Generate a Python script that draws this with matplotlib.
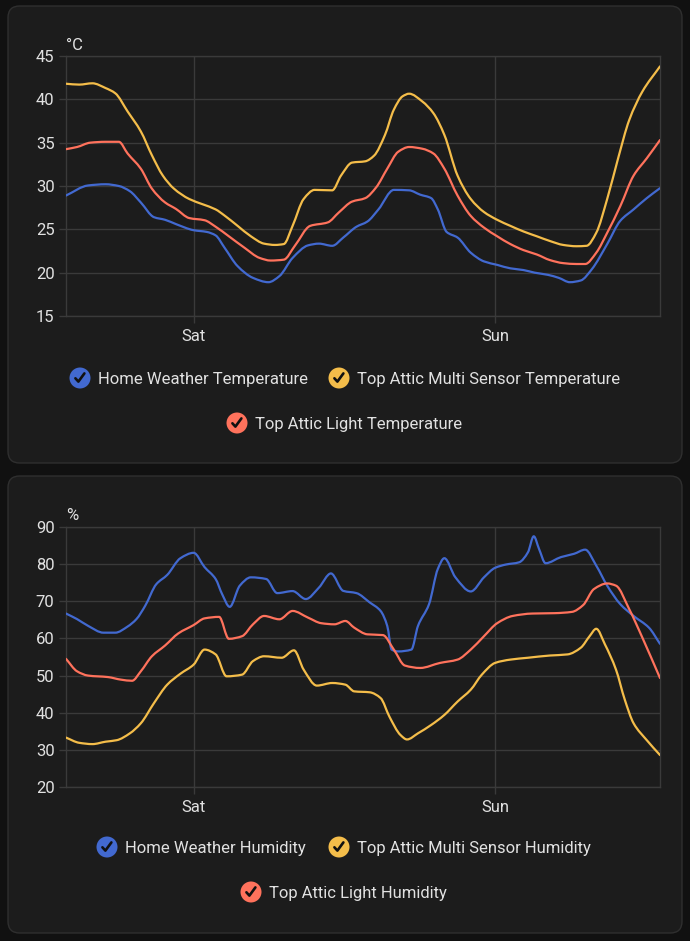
import matplotlib
matplotlib.use("Agg")
import matplotlib.pyplot as plt
from matplotlib.patches import FancyBboxPatch, Circle, PathPatch
from matplotlib.path import Path
from matplotlib.lines import Line2D

# ---------------- data (hours relative to Sat 00:00) ----------------
temp_home_h = [-10.15,-8.40,-7.00,-5.95,-5.07,-4.20,-3.15,-2.27,-1.40,0,1.05,1.75,2.45,3.50,4.72,5.95,6.82,7.87,9.10,9.97,11.02,11.90,12.95,13.82,14.70,15.92,17.14,18.02,18.89,19.42,20.12,20.99,22.04,23.09,24.14,25.19,26.24,27.12,28.17,29.04,29.92,30.79,31.67,32.89,33.94,34.99,36.04,37.09]
temp_home = [28.9,30.06,30.2,30.0,29.4,28.1,26.4,26.1,25.6,24.9,24.7,24.3,22.9,20.75,19.4,18.9,19.6,21.7,23.15,23.35,23.1,24.05,25.3,25.9,27.3,29.55,29.5,29.0,28.6,27.3,24.7,24.05,22.3,21.3,20.9,20.5,20.3,20.0,19.75,19.4,18.9,19.1,20.4,23.3,26.0,27.3,28.6,29.75]

temp_multi_h = [-10.15,-9.10,-8.05,-7.00,-6.23,-5.25,-4.20,-3.32,-2.45,-1.57,-0.35,0.70,1.75,2.45,3.50,4.55,5.60,6.47,7.17,7.87,8.75,9.62,11.02,11.72,12.60,13.65,14.35,15.22,15.92,16.62,17.14,18.19,19.07,19.94,20.99,22.04,23.09,24.14,25.19,26.24,27.29,28.34,29.39,30.44,31.25,32.02,32.89,33.76,34.64,35.69,37.09]
temp_multi = [41.8,41.7,41.85,41.3,40.7,38.6,36.3,33.55,31.2,29.7,28.5,27.9,27.3,26.6,25.4,24.2,23.35,23.2,23.3,25.4,28.5,29.55,29.5,31.2,32.7,32.85,33.5,35.9,38.8,40.35,40.65,39.75,38.4,35.9,31.2,28.5,27.0,26.1,25.4,24.75,24.2,23.65,23.2,23.05,23.1,24.6,28.5,33.2,37.6,40.9,43.8]

temp_light_h = [-10.15,-9.27,-8.22,-7.00,-5.95,-5.25,-4.20,-3.32,-2.27,-1.40,-0.35,0.87,1.75,2.80,4.02,5.25,6.12,7.17,8.05,9.27,10.67,11.55,12.60,13.65,14.52,15.40,16.27,17.14,18.19,19.07,19.94,20.99,22.04,23.09,24.14,25.19,26.24,27.29,28.34,29.39,30.44,31.14,32.02,32.89,33.94,34.99,36.04,37.09]
temp_light = [34.25,34.5,35.0,35.1,35.1,33.75,32.0,29.7,28.1,27.35,26.3,26.05,25.3,24.2,22.9,21.7,21.4,21.5,23.1,25.4,25.8,26.95,28.2,28.6,29.85,32.0,33.95,34.5,34.3,33.75,32.0,28.9,26.55,25.2,24.2,23.3,22.6,22.1,21.45,21.1,21.0,21.0,22.3,24.6,27.7,31.2,33.2,35.3]

hum_home_h = [-10.15,-9.27,-8.40,-7.17,-6.23,-5.25,-4.55,-3.85,-2.97,-2.10,-1.05,0,0.87,1.75,2.27,2.87,3.67,4.55,5.77,6.65,7.87,8.92,9.97,10.92,11.90,12.95,14.00,14.87,15.40,15.75,16.27,17.32,17.84,18.72,19.42,19.94,20.82,22.04,23.09,23.97,24.84,25.89,26.59,27.05,27.47,27.99,29.22,30.27,31.14,32.02,32.89,33.94,34.99,36.21,37.09]
hum_home = [66.7,65.2,63.4,61.55,61.55,63.2,65.2,68.8,74.6,77.1,81.6,83.05,79.2,76.0,71.9,68.5,74.2,76.45,76.0,72.2,72.75,70.6,73.7,77.5,72.8,72.2,69.7,67.4,63.35,57.0,56.5,57.0,63.35,69.2,78.7,81.6,76.45,72.65,76.45,79.0,79.9,80.5,83.2,87.5,84.1,80.25,81.9,82.8,83.9,79.6,74.2,69.2,66.05,62.9,58.55]

hum_multi_h = [-10.15,-9.10,-8.05,-7.00,-6.12,-5.07,-4.20,-3.15,-2.10,-1.05,0,0.87,1.75,2.62,3.85,4.72,5.60,7.00,7.98,8.75,9.80,11.02,12.07,12.77,14.00,14.87,15.57,16.45,16.97,17.84,18.89,19.94,20.99,22.04,22.92,23.97,25.19,26.59,28.34,29.74,30.79,31.49,32.02,32.71,33.59,34.29,34.99,36.04,37.09]
hum_multi = [33.3,31.9,31.55,32.2,32.6,34.45,37.15,42.6,47.55,50.5,52.95,57.0,55.7,49.8,50.25,53.9,55.2,54.8,56.8,51.6,47.3,48.0,47.55,45.75,45.5,43.95,38.95,34.0,32.8,34.45,36.7,39.4,43.0,46.2,50.25,53.4,54.3,54.8,55.4,55.7,57.5,60.6,62.6,58.4,51.6,43.5,37.15,32.6,28.6]

hum_light_h = [-10.15,-9.27,-8.40,-6.82,-5.77,-4.90,-4.20,-3.32,-2.27,-1.22,0,0.87,2.03,2.80,3.85,4.72,5.60,6.82,7.87,9.10,10.15,11.20,12.07,12.77,13.82,15.05,15.92,16.80,18.02,19.59,20.99,22.04,23.09,24.14,25.37,26.94,28.69,30.09,30.97,31.84,32.89,33.59,34.64,35.69,37.09]
hum_light = [54.5,51.15,50.0,49.6,48.9,48.6,51.15,55.2,58.1,61.35,63.6,65.4,65.8,59.9,60.6,63.8,66.05,65.15,67.4,65.6,64.1,63.8,64.7,62.9,61.1,60.9,57.0,52.7,52.05,53.4,54.3,57.0,60.6,64.1,66.05,66.7,66.8,67.15,68.95,73.3,74.8,74.2,67.9,60.2,49.35]

x_range = [-10.15, 37.09]
day_ticks = [0, 24]
day_labels = ["Sat", "Sun"]
temp_ticks = [15, 20, 25, 30, 35, 40, 45]
hum_ticks = [20, 30, 40, 50, 60, 70, 80, 90]

temp_names = ["Home Weather Temperature", "Top Attic Multi Sensor Temperature", "Top Attic Light Temperature"]
hum_names = ["Home Weather Humidity", "Top Attic Multi Sensor Humidity", "Top Attic Light Humidity"]
colors = ["#4269d0", "#f4bd4a", "#ff725c"]

# ---------------- style ----------------
W, H = 690, 941
BG = "#111111"
CARD = "#1c1c1c"
GRID = "#3a3a3a"
TXT = "#e1e1e1"
FONT = ["Roboto", "DejaVu Sans"]
plt.rcParams["font.family"] = FONT

fig = plt.figure(figsize=(W / 100, H / 100), dpi=100, facecolor=BG)


def fx(x):
    return x / W


def fy(y):
    return 1 - y / H


def card(y0, y1):
    p = FancyBboxPatch((fx(8), fy(y1)), fx(682) - fx(8), fy(y0) - fy(y1),
                       boxstyle="round,pad=0,rounding_size=0.017",
                       transform=fig.transFigure, facecolor=CARD,
                       edgecolor="#2f2f2f", linewidth=1.0, zorder=-10,
                       mutation_aspect=W / H)
    fig.patches.append(p)


card(6, 463)
card(476, 933)


def smooth_path(xs, ys):
    """Monotone cubic (Fritsch-Carlson) curve through the data points, as Bezier segments."""
    n = len(xs)
    d = [(ys[i + 1] - ys[i]) / (xs[i + 1] - xs[i]) for i in range(n - 1)]
    m = [0.0] * n
    m[0], m[-1] = d[0], d[-1]
    for i in range(1, n - 1):
        if d[i - 1] * d[i] <= 0:
            m[i] = 0.0
        else:
            h0 = xs[i] - xs[i - 1]
            h1 = xs[i + 1] - xs[i]
            w1 = 2 * h1 + h0
            w2 = h1 + 2 * h0
            m[i] = (w1 + w2) / (w1 / d[i - 1] + w2 / d[i])
    verts = [(xs[0], ys[0])]
    codes = [Path.MOVETO]
    for i in range(n - 1):
        h = xs[i + 1] - xs[i]
        verts += [(xs[i] + h / 3, ys[i] + m[i] * h / 3),
                  (xs[i + 1] - h / 3, ys[i + 1] - m[i + 1] * h / 3),
                  (xs[i + 1], ys[i + 1])]
        codes += [Path.CURVE4] * 3
    return Path(verts, codes)


def chart(top_px, bot_px, series_t, series_v, ticks, unit, names, legend_rows):
    ax = fig.add_axes([fx(66), fy(bot_px), fx(660) - fx(66), fy(top_px) - fy(bot_px)])
    ax.set_facecolor("none")
    ax.set_zorder(2)
    for t, v, c in zip(series_t, series_v, colors):
        ax.add_patch(PathPatch(smooth_path(t, v), fill=False, edgecolor=c, lw=1.6,
                               capstyle="round", joinstyle="round", zorder=3))
    ax.set_xlim(*x_range)
    ax.set_ylim(ticks[0], ticks[-1])
    ax.set_yticks(ticks)
    ax.set_yticklabels([str(t) for t in ticks])
    ax.set_xticks(day_ticks)
    ax.set_xticklabels(day_labels)
    ax.grid(True, color=GRID, lw=1.0, zorder=1)
    ax.set_axisbelow(True)
    for s in ax.spines.values():
        s.set_color(GRID)
        s.set_linewidth(1.0)
    ax.tick_params(axis="both", colors=GRID, length=4.7, width=1.0, labelcolor=TXT,
                   labelsize=12)
    ax.tick_params(axis="y", pad=3.5)
    ax.tick_params(axis="x", pad=4.5)
    fig.text(fx(66), fy(top_px - 11), unit, color=TXT, fontsize=12, ha="left", va="center")

    # legend
    for row in legend_rows:
        for (cx, ty, name_i) in row:
            c = colors[name_i]
            circ = Circle((cx, H - ty), 10.5, transform=None, facecolor=c, edgecolor="none", zorder=3)
            fig.patches.append(circ)
            chk = Line2D([fx(cx - 4.6), fx(cx - 1.6), fx(cx + 4.4)],
                         [fy(ty + 0.3), fy(ty + 3.6), fy(ty - 4.6)],
                         transform=fig.transFigure, color="#111111", lw=1.9,
                         solid_capstyle="round", solid_joinstyle="round", zorder=4)
            fig.lines.append(chk)
            fig.text(fx(cx + 18), fy(ty), names[name_i], color=TXT, fontsize=12,
                     ha="left", va="center_baseline")
    return ax


chart(56, 316, [temp_home_h, temp_multi_h, temp_light_h], [temp_home, temp_multi, temp_light],
      temp_ticks, "°C", temp_names,
      [[(80, 378, 0), (339, 378, 1)], [(237, 423, 2)]])

chart(527, 787, [hum_home_h, hum_multi_h, hum_light_h], [hum_home, hum_multi, hum_light],
      hum_ticks, "%", hum_names,
      [[(107, 847, 0), (339, 847, 1)], [(251, 892, 2)]])

fig.savefig("out.png", dpi=100, facecolor=BG)
